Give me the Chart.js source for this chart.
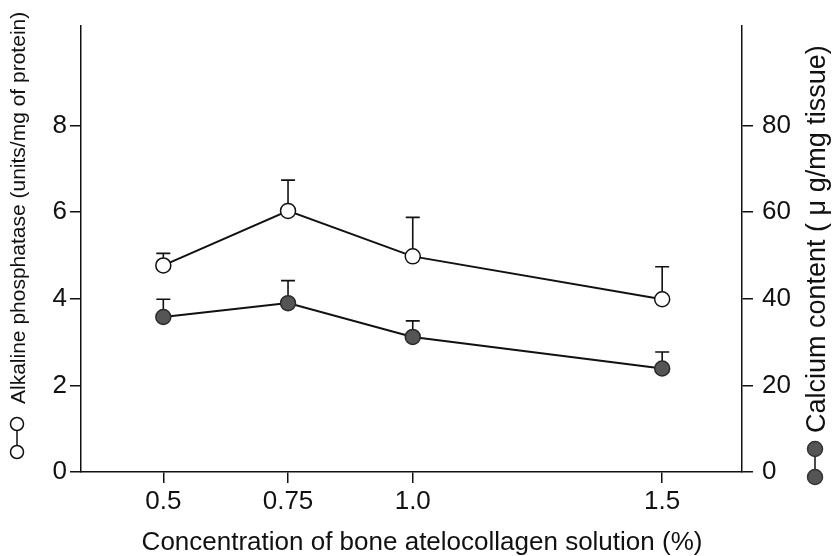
<!DOCTYPE html>
<html>
<head>
<meta charset="utf-8">
<script src="https://cdn.jsdelivr.net/npm/chart.js@4.4.1/dist/chart.umd.min.js"></script>
<style>
  html, body { margin: 0; padding: 0; background: #fff; }
</style>
</head>
<body>
<canvas id="myChart" width="832" height="556"></canvas>
<script>
  // values
  var concentrations = [0.5, 0.75, 1.0, 1.5];
  var tickLabelsX = ['0.5', '0.75', '1.0', '1.5'];
  var alpMean = [4.77, 6.03, 4.98, 3.99];
  var alpErr = [0.28, 0.71, 0.90, 0.75];
  var calciumMean = [35.8, 39.0, 31.2, 23.9];
  var calciumErr = [4.1, 5.2, 3.7, 3.8];
  var leftTicks = [0, 2, 4, 6, 8];
  var rightTicks = [0, 20, 40, 60, 80];

  var ink = '#111';
  var font = 'Liberation Sans, Arial, Helvetica, sans-serif';

  function points(ys) {
    return concentrations.map(function(x, i) { return { x: x, y: ys[i] }; });
  }

  // upward error bars, drawn under the markers
  var errorBars = {
    id: 'errorBars',
    beforeDatasetsDraw: function(chart) {
      var ctx = chart.ctx;
      var errs = [alpErr, calciumErr];
      var means = [alpMean, calciumMean];
      ctx.save();
      ctx.strokeStyle = ink;
      ctx.lineWidth = 1.6;
      chart.data.datasets.forEach(function(ds, d) {
        var meta = chart.getDatasetMeta(d);
        var yScale = chart.scales[meta.yAxisID];
        meta.data.forEach(function(pt, j) {
          var top = yScale.getPixelForValue(means[d][j] + errs[d][j]);
          ctx.beginPath();
          ctx.moveTo(pt.x, pt.y);
          ctx.lineTo(pt.x, top);
          ctx.moveTo(pt.x - 7, top);
          ctx.lineTo(pt.x + 7, top);
          ctx.stroke();
        });
      });
      ctx.restore();
    }
  };

  // axis titles (the right one reads bottom-to-top) and the little symbol keys
  var sideTitles = {
    id: 'sideTitles',
    afterDraw: function(chart) {
      var ctx = chart.ctx;
      ctx.save();
      ctx.fillStyle = ink;
      ctx.textBaseline = 'middle';
      ctx.textAlign = 'left';

      ctx.save();
      ctx.translate(19, 404);
      ctx.rotate(-Math.PI / 2);
      ctx.font = '21px ' + font;
      ctx.fillText('Alkaline phosphatase (units/mg of protein)', 0, 0);
      ctx.restore();

      ctx.save();
      ctx.translate(818, 433);
      ctx.rotate(-Math.PI / 2);
      ctx.font = '27px ' + font;
      ctx.fillText('Calcium content ( \u03bc g/mg tissue)', 0, 0);
      ctx.restore();

      ctx.font = '26px ' + font;
      ctx.textAlign = 'center';
      ctx.textBaseline = 'alphabetic';
      ctx.fillText('Concentration of bone atelocollagen solution (%)', 422, 550);

      ctx.strokeStyle = ink;
      ctx.lineWidth = 1.5;
      ctx.beginPath();
      ctx.moveTo(17, 424); ctx.lineTo(17, 452);
      ctx.moveTo(815, 449); ctx.lineTo(815, 477);
      ctx.stroke();

      [424, 452].forEach(function(y) {
        ctx.beginPath();
        ctx.arc(17, y, 6.5, 0, Math.PI * 2);
        ctx.fillStyle = '#fff';
        ctx.fill();
        ctx.stroke();
      });
      [449, 477].forEach(function(y) {
        ctx.beginPath();
        ctx.arc(815, y, 7.5, 0, Math.PI * 2);
        ctx.fillStyle = '#555';
        ctx.fill();
        ctx.strokeStyle = '#333';
        ctx.stroke();
      });
      ctx.restore();
    }
  };

  var axisGrid = { drawOnChartArea: false, drawTicks: true, tickLength: 11, color: ink, lineWidth: 1.5 };
  var axisBorder = { display: true, color: ink, width: 1.5 };

  new Chart(document.getElementById('myChart'), {
    type: 'line',
    data: {
      datasets: [{
        label: 'Alkaline phosphatase',
        data: points(alpMean),
        yAxisID: 'y',
        borderColor: ink,
        borderWidth: 2,
        pointRadius: 7.5,
        pointBackgroundColor: '#fff',
        pointBorderColor: ink,
        pointBorderWidth: 1.5
      }, {
        label: 'Calcium content',
        data: points(calciumMean),
        yAxisID: 'y1',
        borderColor: ink,
        borderWidth: 2,
        pointRadius: 7.5,
        pointBackgroundColor: '#555',
        pointBorderColor: '#2a2a2a',
        pointBorderWidth: 1.5
      }]
    },
    options: {
      responsive: false,
      animation: false,
      layout: { padding: { top: 26, left: 0, right: 0, bottom: 0 } },
      plugins: { legend: { display: false }, tooltip: { enabled: false } },
      scales: {
        x: {
          type: 'linear',
          min: 0.335,
          max: 1.66,
          afterBuildTicks: function(s) { s.ticks = concentrations.map(function(v) { return { value: v }; }); },
          afterFit: function(s) { s.height = 84; },
          ticks: {
            autoSkip: false, maxRotation: 0, padding: 3, color: ink,
            font: { family: font, size: 26 },
            callback: function(v, i) { return tickLabelsX[i]; }
          },
          grid: axisGrid,
          border: axisBorder
        },
        y: {
          position: 'left',
          min: 0,
          max: 10.3,
          afterBuildTicks: function(s) { s.ticks = leftTicks.map(function(v) { return { value: v }; }); },
          afterFit: function(s) { s.width = 81; },
          ticks: { padding: 3, color: ink, font: { family: font, size: 26 } },
          grid: axisGrid,
          border: axisBorder
        },
        y1: {
          position: 'right',
          min: 0,
          max: 103,
          afterBuildTicks: function(s) { s.ticks = rightTicks.map(function(v) { return { value: v }; }); },
          afterFit: function(s) { s.width = 90; },
          ticks: { padding: 9, color: ink, font: { family: font, size: 26 } },
          grid: axisGrid,
          border: axisBorder
        }
      }
    },
    plugins: [errorBars, sideTitles]
  });
</script>
</body>
</html>
